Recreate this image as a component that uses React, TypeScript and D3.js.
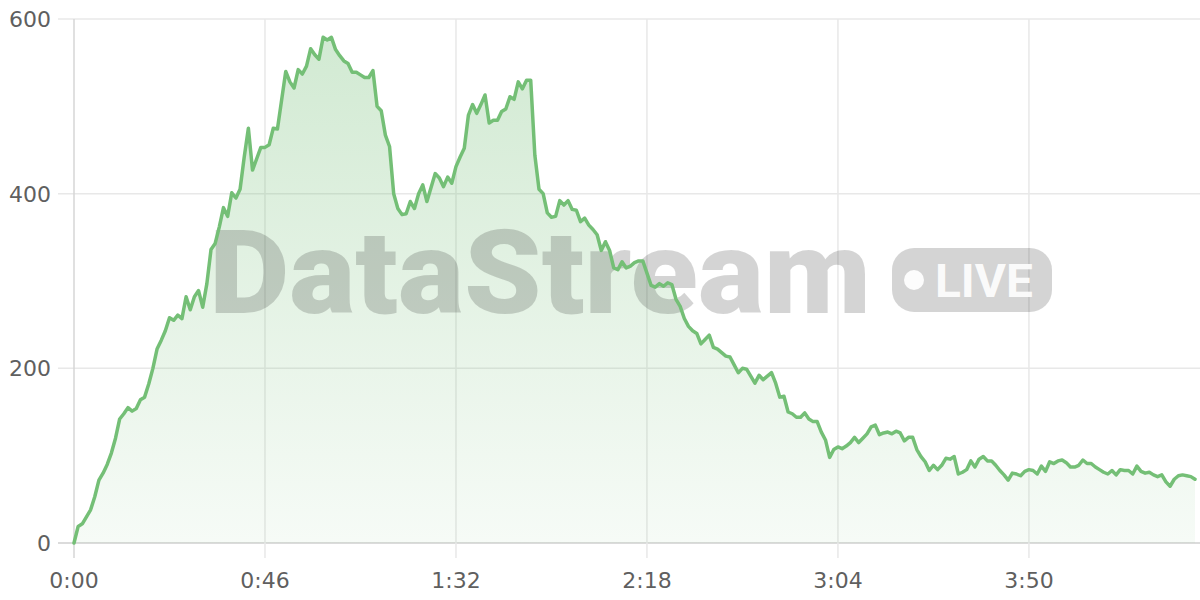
import React from "react";
import * as d3 from "d3";

// one reading per second, starting at 0:00
const VALUES: number[] = [
  0, 19, 22, 30, 38, 53, 72, 80, 90, 103,
  120, 142, 148, 155, 151, 154, 164, 167, 182, 200,
  222, 232, 243, 258, 255, 261, 257, 282, 267, 282,
  289, 270, 297, 336, 343, 362, 384, 374, 401, 395,
  405, 442, 475, 427, 440, 453, 453, 456, 475, 474,
  507, 540, 528, 521, 542, 537, 546, 566, 559, 554,
  579, 576, 579, 565, 558, 552, 549, 539, 539, 536,
  533, 533, 541, 500, 495, 467, 454, 400, 383, 376,
  377, 391, 383, 400, 410, 391, 407, 423, 418, 408,
  419, 412, 431, 442, 452, 490, 502, 492, 502, 513,
  481, 484, 484, 494, 497, 511, 508, 528, 520, 530,
  530, 444, 405, 400, 378, 373, 374, 392, 387, 392,
  382, 381, 368, 372, 364, 359, 353, 335, 345, 335,
  315, 313, 322, 315, 317, 321, 323, 323, 309, 295,
  293, 297, 294, 298, 296, 279, 271, 257, 248, 243,
  240, 228, 233, 238, 224, 222, 218, 214, 213, 204,
  195, 200, 199, 191, 183, 192, 187, 191, 195, 183,
  167, 168, 150, 148, 144, 144, 149, 142, 139, 139,
  127, 118, 98, 107, 110, 108, 111, 115, 121, 115,
  120, 125, 133, 135, 124, 126, 127, 125, 128, 126,
  117, 121, 121, 107, 99, 93, 83, 89, 84, 89,
  97, 96, 99, 79, 81, 84, 94, 87, 96, 99,
  94, 94, 89, 83, 78, 72, 80, 79, 77, 82,
  84, 83, 79, 88, 82, 93, 91, 94, 95, 92,
  87, 87, 89, 95, 91, 91, 87, 84, 81, 79,
  83, 78, 84, 83, 83, 79, 88, 82, 80, 81,
  78, 76, 78, 70, 65, 73, 77, 78, 77, 76,
  73,
];

const X_TICKS: number[] = [0, 46, 92, 138, 184, 230];
const Y_TICKS: number[] = [0, 200, 400, 600];
const WATERMARK = "DataStream";
const BADGE = "LIVE";

const fmtTime = (s: number) => `${Math.floor(s / 60)}:${String(s % 60).padStart(2, "0")}`;

export default function App() {
  const W = 1200;
  const H = 600;
  const left = 74;
  const x = d3.scaleLinear().domain([0, 270]).range([left, 1195]);
  const y = d3.scaleLinear().domain([0, 600]).range([543, 19]);

  const pts: [number, number][] = VALUES.map((v, i) => [i, v]);
  const line = d3
    .line<[number, number]>()
    .x((d) => x(d[0]))
    .y((d) => y(d[1]));
  const area = d3
    .area<[number, number]>()
    .x((d) => x(d[0]))
    .y0(y(0))
    .y1((d) => y(d[1]));

  const font = "'DejaVu Sans', sans-serif";
  const wmFont = "Roboto, 'Noto Sans', sans-serif";

  return (
    <svg
      width={W}
      height={H}
      viewBox={`0 0 ${W} ${H}`}
      style={{ position: "absolute", left: 0, top: 0, display: "block", background: "#fff" }}
    >
      <defs>
        <linearGradient id="areaGrad" gradientUnits="userSpaceOnUse" x1="0" y1={y(600)} x2="0" y2={y(0)}>
          <stop offset="0%" stopColor="#6dbb70" stopOpacity={0.32} />
          <stop offset="100%" stopColor="#6dbb70" stopOpacity={0.06} />
        </linearGradient>
      </defs>

      {/* horizontal grid */}
      {Y_TICKS.map((t) => (
        <line key={`hy${t}`} x1={58} x2={W} y1={y(t)} y2={y(t)} stroke={t === 0 ? "#cfcfcf" : "#e8e8e8"} strokeWidth={1.5} />
      ))}
      {/* vertical grid */}
      {X_TICKS.map((t) => (
        <line key={`vx${t}`} x1={x(t)} x2={x(t)} y1={y(600)} y2={558} stroke={t === 0 ? "#d6d6d6" : "#e8e8e8"} strokeWidth={1.5} />
      ))}

      <path d={area(pts) || ""} fill="url(#areaGrad)" />

      {/* watermark */}
      <g fill="#000" fillOpacity={0.17}>
        <text
          x={209}
          y={313}
          fontFamily={wmFont}
          fontWeight={900}
          fontSize={116}
          textLength={662}
          lengthAdjust="spacingAndGlyphs"
        >
          {WATERMARK}
        </text>
        <rect x={892} y={248} width={160} height={64} rx={22} ry={22} />
      </g>
      <circle cx={914} cy={280} r={10} fill="#fff" fillOpacity={0.92} />
      <text
        x={935}
        y={297}
        fill="#fff"
        fillOpacity={0.92}
        fontFamily={wmFont}
        fontWeight={700}
        fontSize={47}
        textLength={98}
        lengthAdjust="spacingAndGlyphs"
      >
        {BADGE}
      </text>

      <path d={line(pts) || ""} fill="none" stroke="#74bf76" strokeWidth={3.5} strokeLinejoin="round" strokeLinecap="round" />

      {/* y labels */}
      {Y_TICKS.map((t) => (
        <text key={`yl${t}`} x={51} y={y(t) + 8} textAnchor="end" fill="#5f5f5f" fontFamily={font} fontSize={22}>
          {t}
        </text>
      ))}
      {/* x labels */}
      {X_TICKS.map((t) => (
        <text key={`xl${t}`} x={x(t)} y={588} textAnchor="middle" fill="#5f5f5f" fontFamily={font} fontSize={22}>
          {fmtTime(t)}
        </text>
      ))}
    </svg>
  );
}
